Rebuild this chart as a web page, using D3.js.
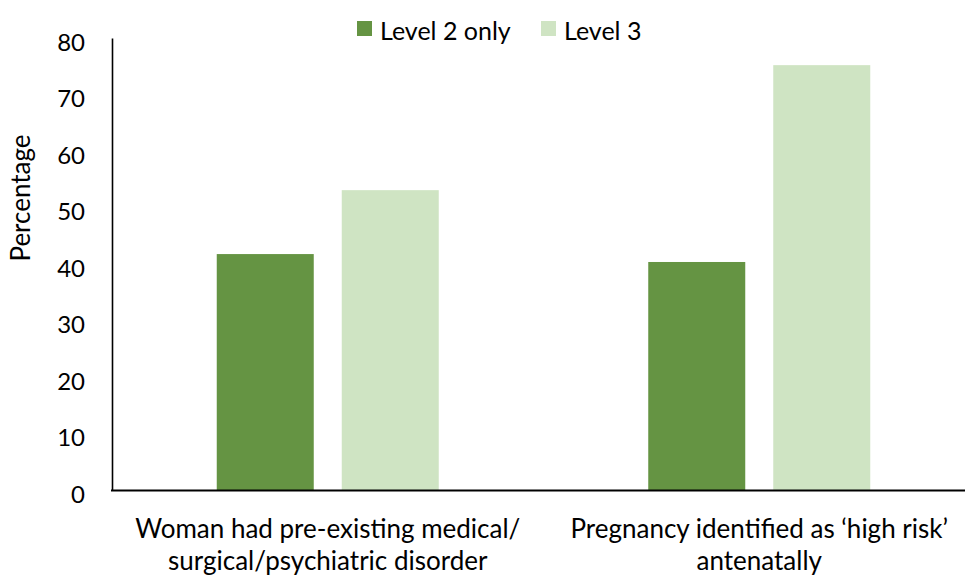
<!DOCTYPE html>
<html>
<head>
<meta charset="utf-8">
<script src="https://cdn.jsdelivr.net/npm/d3@7"></script>
<style>
  html, body { margin: 0; padding: 0; background: #fff; }
  svg { display: block; font-family: Lato, "Open Sans", sans-serif; }
</style>
</head>
<body>
<svg id="chart" width="965" height="577"></svg>
<script>
const categories = [
  ["Woman had pre-existing medical/", "surgical/psychiatric disorder"],
  ["Pregnancy identified as \u2018high risk\u2019", "antenatally"]
]
const series = ["Level 2 only", "Level 3"]
const level2 = [41.8, 40.4]
const level3 = [53.1, 75.2]
const yTicks = [0, 10, 20, 30, 40, 50, 60, 70, 80]

const colors = { "Level 2 only": "#659443", "Level 3": "#cfe4c3" }

const svg = d3.select("#chart")
const plotL = 112, plotR = 975, plotT = 38, plotB = 490.5

const x0 = d3.scaleBand().domain(d3.range(categories.length)).range([plotL, plotR]).padding(0)
const x1 = d3.scaleBand().domain(series).range([0, x0.bandwidth()])
  .paddingInner(0.224).paddingOuter(0.838)
const y = d3.scaleLinear().domain([0, 80]).range([plotB, plotT])

const rows = categories.map((c, i) => ({ i, values: [
  { key: series[0], v: level2[i] },
  { key: series[1], v: level3[i] }
] }))

// bars
svg.append("g").selectAll("g").data(rows).join("g")
  .attr("transform", d => `translate(${x0(d.i)},0)`)
  .selectAll("rect").data(d => d.values).join("rect")
  .attr("x", d => x1(d.key))
  .attr("width", x1.bandwidth())
  .attr("y", d => y(d.v))
  .attr("height", d => y(0) - y(d.v))
  .attr("fill", d => colors[d.key])

// y axis
const yAxis = svg.append("g")
  .attr("transform", `translate(${plotL},0)`)
  .call(d3.axisLeft(y).tickValues(yTicks).tickSize(0).tickPadding(27))
yAxis.select(".domain").attr("stroke", "#000").attr("stroke-width", 1.6)
yAxis.selectAll("text")
  .attr("font-family", "Lato, 'Open Sans', sans-serif")
  .attr("font-size", 24).attr("fill", "#000").attr("dy", "0.5em")

// x axis baseline
svg.append("line")
  .attr("x1", plotL - 1).attr("x2", 965)
  .attr("y1", y(0)).attr("y2", y(0))
  .attr("stroke", "#000").attr("stroke-width", 2.2)

// category labels
const labels = svg.append("g").selectAll("text").data(categories).join("text")
  .attr("x", (d, i) => x0(i) + x0.bandwidth() / 2)
  .attr("y", 538)
  .attr("text-anchor", "middle")
  .attr("font-size", 26)
  .attr("fill", "#000")
labels.selectAll("tspan").data(d => d).join("tspan")
  .attr("x", function () { return this.parentNode.getAttribute("x") })
  .attr("dy", (d, j) => j === 0 ? 0 : 31.5)
  .text(d => d)

// y label
svg.append("text")
  .attr("transform", "translate(30,198) rotate(-90)")
  .attr("text-anchor", "middle")
  .attr("font-size", 26)
  .attr("fill", "#000")
  .text("Percentage")

// legend
const legendX = [357, 541]
const legend = svg.append("g").selectAll("g").data(series).join("g")
  .attr("transform", (d, i) => `translate(${legendX[i]},21)`)
legend.append("rect").attr("width", 15).attr("height", 15).attr("fill", d => colors[d])
legend.append("text").attr("x", 23).attr("y", 19)
  .attr("font-size", 25).attr("fill", "#000").text(d => d)
</script>
</body>
</html>
